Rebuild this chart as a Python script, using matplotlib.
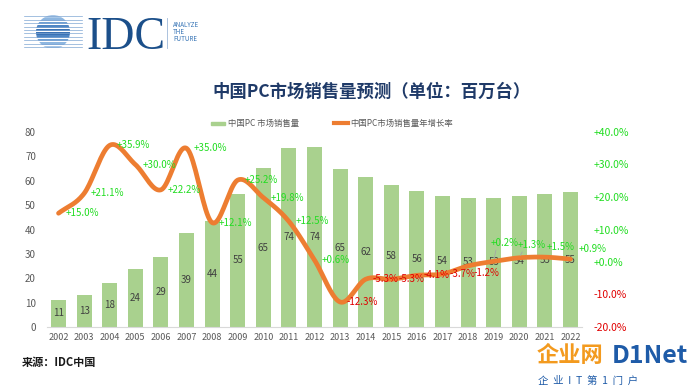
import numpy as np
import matplotlib
matplotlib.use('Agg')
import matplotlib.pyplot as plt
from matplotlib.patches import Circle, Rectangle

plt.rcParams['font.family'] = ['Noto Sans CJK SC', 'DejaVu Sans']
plt.rcParams['axes.unicode_minus'] = False

years = ['2002', '2003', '2004', '2005', '2006', '2007', '2008', '2009', '2010', '2011', '2012',
         '2013', '2014', '2015', '2016', '2017', '2018', '2019', '2020', '2021', '2022']
sales = [11.1, 13.3, 18.0, 23.8, 28.7, 38.7, 43.5, 54.6, 65.2, 73.5, 74.0,
         64.8, 61.5, 58.2, 55.8, 53.8, 53.1, 53.1, 53.8, 54.6, 55.2]
growth = [15.0, 21.1, 35.9, 30.0, 22.2, 35.0, 12.1, 25.2, 19.8, 12.5, 0.6,
          -12.3, -5.3, -5.3, -4.1, -3.7, -1.2, 0.2, 1.3, 1.5, 0.9]
left_ticks = [0, 10, 20, 30, 40, 50, 60, 70, 80]
right_ticks = [-20, -10, 0, 10, 20, 30, 40]

W, H = 694, 387
GREEN = '#A9D18E'
ORANGE = '#ED7D31'
POS = '#22DD22'
NEG = '#E00000'
GRAY = '#595959'


def px(x, y):
    # pixel position -> figure fraction
    return x / W, 1 - y / H


def smooth(xs, ys, n=20):
    # catmull-rom style curve, like excel's smoothed line
    xs = np.asarray(xs, float)
    ys = np.asarray(ys, float)
    px_ = np.concatenate([[2 * xs[0] - xs[1]], xs, [2 * xs[-1] - xs[-2]]])
    py_ = np.concatenate([[2 * ys[0] - ys[1]], ys, [2 * ys[-1] - ys[-2]]])
    outx, outy = [], []
    for i in range(1, len(px_) - 2):
        t = np.linspace(0, 1, n, endpoint=False)
        for arr, out in ((px_, outx), (py_, outy)):
            p0, p1, p2, p3 = arr[i - 1], arr[i], arr[i + 1], arr[i + 2]
            b1 = p1 + (p2 - p0) / 6
            b2 = p2 - (p3 - p1) / 6
            out.extend((1 - t) ** 3 * p1 + 3 * (1 - t) ** 2 * t * b1
                       + 3 * (1 - t) * t ** 2 * b2 + t ** 3 * p2)
    outx.append(xs[-1])
    outy.append(ys[-1])
    return np.array(outx), np.array(outy)


fig = plt.figure(figsize=(W / 100, H / 100), dpi=100)
ax = fig.add_axes([47 / W, 60 / H, 535 / W, 195 / H])
x = np.arange(len(years))

bars = ax.bar(x, sales, width=0.58, color=GREEN, zorder=2)
ax.bar_label(bars, labels=['%.0f' % v for v in sales], label_type='center',
             fontsize=7, color='#404040')
ax.set_ylim(0, 80)
ax.set_xlim(-0.45, len(years) - 0.55)
ax.set_yticks(left_ticks)
ax.set_xticks(x)
ax.set_xticklabels(years)
ax.tick_params(axis='y', length=0, labelsize=7, colors=GRAY, pad=8)
ax.tick_params(axis='x', length=0, labelsize=6.5, colors=GRAY, pad=4)
for s in ['top', 'right', 'left']:
    ax.spines[s].set_visible(False)
ax.spines['bottom'].set_color('#D9D9D9')

ax2 = ax.twinx()
ax2.set_ylim(-20, 40)
ax2.set_yticks(right_ticks)
ax2.set_yticklabels(['%+.1f%%' % v for v in right_ticks])
ax2.tick_params(axis='y', length=0, labelsize=7.5, pad=8)
for lab, v in zip(ax2.get_yticklabels(), right_ticks):
    lab.set_color(NEG if v < 0 else POS)
for s in ax2.spines.values():
    s.set_visible(False)

sx, sy = smooth(x, growth)
ax2.plot(sx, sy, color=ORANGE, lw=3.4, solid_capstyle='round', zorder=3)

# data labels, mostly right of the point; the last ones were moved by hand
offsets = {16: (4, -5), 17: (-2, 13), 18: (-1, 9), 19: (1, 7), 20: (6, 7)}
for i, g in enumerate(growth):
    dx, dy = offsets.get(i, (5, 0))
    ax2.annotate('%+.1f%%' % g, (x[i], g), xytext=(dx, dy), textcoords='offset points',
                 ha='left', va='center', fontsize=7,
                 color=NEG if g < 0 else POS, zorder=4)
for i in (17, 18):
    dx, dy = offsets[i]
    ax2.annotate('', (x[i], growth[i]), xytext=(dx + 4, dy - 3), textcoords='offset points',
                 arrowprops=dict(arrowstyle='-', color='#A6A6A6', lw=0.6))

# legend
fig.add_artist(Rectangle(px(211, 124.5), 14 / W, 3 / H, color=GREEN, transform=fig.transFigure))
fig.text(*px(228, 123), '中国PC 市场销售量', fontsize=6, color=GRAY, va='center')
fig.add_artist(plt.Line2D([334 / W, 348 / W], [1 - 123 / H] * 2, color=ORANGE, lw=3,
                          transform=fig.transFigure))
fig.text(*px(350, 123), '中国PC市场销售量年增长率', fontsize=6, color=GRAY, va='center')

# title
fig.text(*px(372, 92), '中国PC市场销售量预测（单位：百万台）', fontsize=12.5, fontweight='bold',
         color='#1F3A68', ha='center', va='center')

# source
fig.text(*px(22, 362), '来源：IDC中国', fontsize=8, fontweight='bold', color='#1A1A1A', va='center')

# IDC logo
lg = fig.add_axes([20 / W, 1 - 55 / H, 65 / W, 45 / H])
lg.set_xlim(0, 65)
lg.set_ylim(45, 0)
lg.axis('off')
circ = Circle((33, 22), 17, transform=lg.transData)
shades = ['#A9C8E8', '#8DB6E0', '#6FA0D4', '#4F86C4', '#3A72B4', '#3A72B4',
          '#4F86C4', '#6FA0D4', '#8DB6E0', '#A9C8E8']
for k, c in enumerate(shades):
    yy = 5 + k * 3.4
    r = lg.add_patch(Rectangle((0, yy), 65, 2.6, color=c, lw=0))
    r.set_clip_path(circ)
    lg.plot([4, 62], [yy + 1.3, yy + 1.3], color='#7FA6D3', lw=0.5)
fig.text(*px(86, 49), 'IDC', fontsize=33, color='#1B4F8A', family='Liberation Serif',
         va='baseline')
fig.add_artist(plt.Line2D([167 / W] * 2, [1 - 18 / H, 1 - 48 / H], color='#9DB8D8', lw=0.6,
                          transform=fig.transFigure))
for k, w in enumerate(['ANALYZE', 'THE', 'FUTURE']):
    fig.text(*px(173, 25 + k * 7), w, fontsize=4.5, color='#3573B5', va='center')

# watermark
fig.text(*px(537, 356), '企业网', fontsize=16, fontweight='bold', color='#F39A1E', va='center')
fig.text(*px(612, 356), 'D1Net', fontsize=18, fontweight='bold', color='#1E5BA8', va='center')
fig.text(*px(538, 381), '企  业  I  T  第  1  门  户', fontsize=7.5, color='#1E5BA8', va='center')

fig.savefig('out.png', dpi=100)
